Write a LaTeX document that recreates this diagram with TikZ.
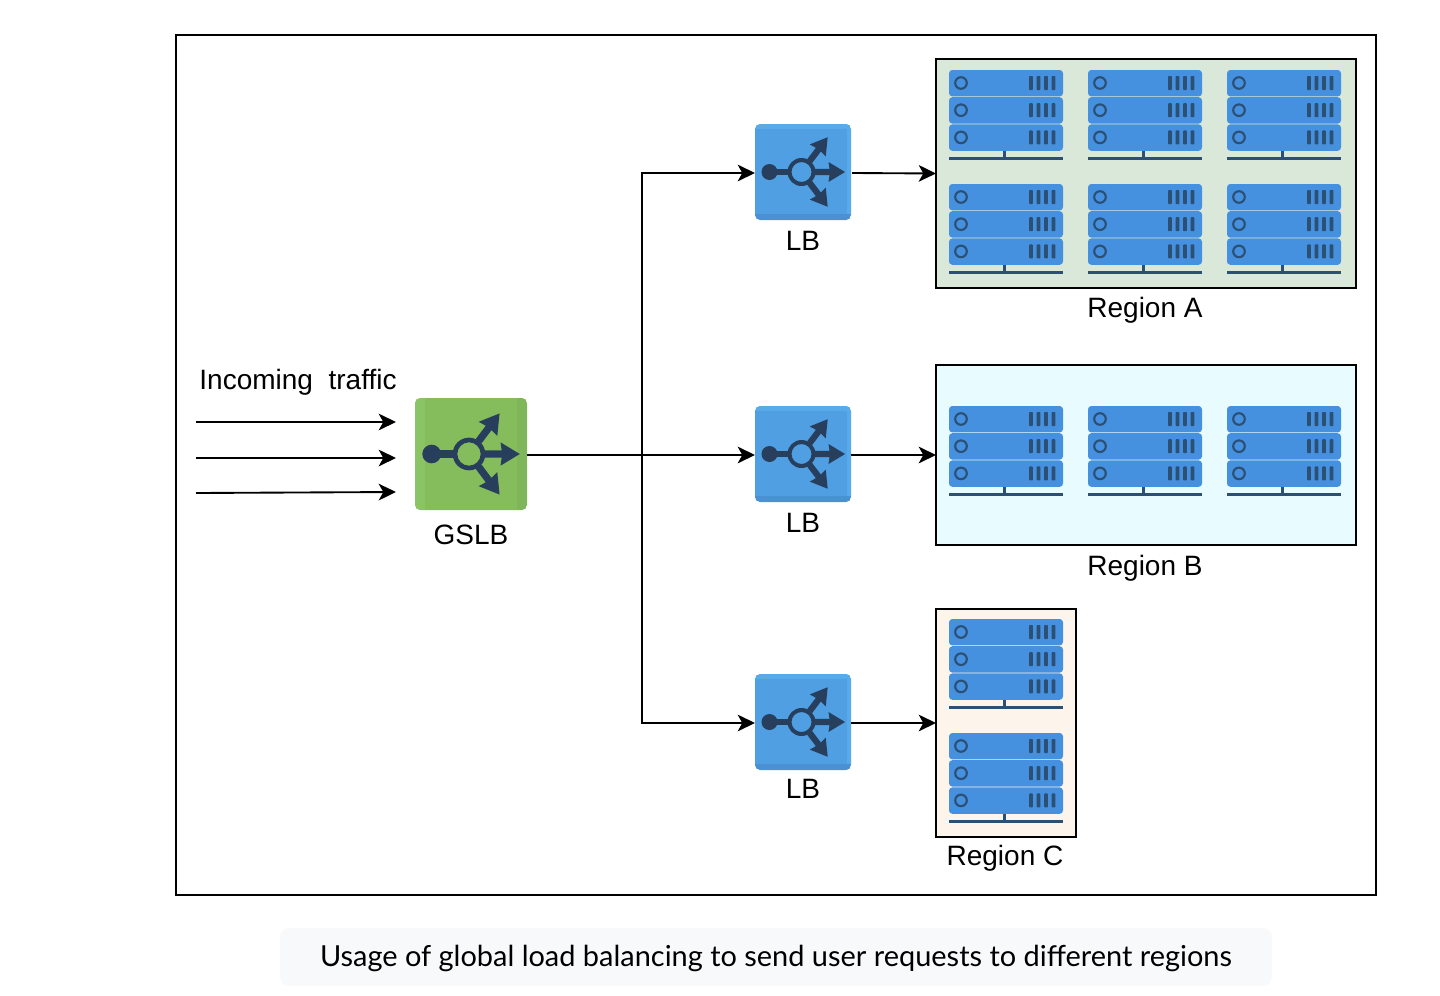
\documentclass[tikz,border=0pt]{standalone}
\usepackage{fontspec}
\setmainfont{Liberation Sans}
\newfontfamily\capfont{Lato}
\usetikzlibrary{arrows.meta}
\definecolor{srvblue}{HTML}{4590DF}
\definecolor{srvdark}{HTML}{2C4F74}
\definecolor{glyph}{HTML}{273E5C}
\definecolor{lbmain}{HTML}{4F9FE2}
\definecolor{lblight}{HTML}{58ABE8}
\definecolor{lbdark}{HTML}{4A90D2}
\definecolor{gsmain}{HTML}{85BD5C}
\definecolor{gslight}{HTML}{8BC465}
\definecolor{gsdark}{HTML}{80B65A}
\definecolor{rega}{HTML}{D9E8D8}
\definecolor{regb}{HTML}{E8FBFF}
\definecolor{regc}{HTML}{FDF5EC}
\definecolor{capbg}{HTML}{F8F9FB}
\tikzset{
  x=0.75pt,y=-0.75pt,
  frame/.style={draw=black,line width=1.5pt,fill=none,inner sep=0pt,outer sep=0pt},
  regionbox/.style={draw=black,line width=1.2pt,inner sep=0pt,outer sep=0pt},
  label/.style={font=\fontsize{21pt}{25pt}\selectfont,text=black,inner sep=0pt},
  flow/.style={draw=black,line width=1.4pt,-{Stealth[length=13pt,width=12.5pt,inset=3.5pt]}},
  lbbox/.style={fill=lbmain,rounded corners=4pt,minimum width=72pt,minimum height=72pt,inner sep=0pt,outer sep=0pt},
  gsbox/.style={fill=gsmain,rounded corners=4pt,minimum width=84pt,minimum height=84pt,inner sep=0pt,outer sep=0pt},
  server/.pic={
    \foreach \r in {0,27.2,54.4}{
      \fill[srvblue,rounded corners=2.5pt] (0,\r) rectangle (114,\r+26.4);
      \draw[srvdark,line width=1.6pt] (12,\r+13) circle[radius=5.8];
      \foreach \b in {82,89.5,97,104.5}{
        \fill[srvdark,rounded corners=0.6pt] (\b-1.9,\r+6) rectangle (\b+1.9,\r+20);
      }
    }
    \fill[srvdark] (0,86.7) rectangle (114,89.7);
    \fill[srvdark] (53.8,81) rectangle (56.8,87);
  },
  lbglyph/.pic={
    \fill[glyph,even odd rule] (0,0) circle[radius=14] (0,0) circle[radius=10];
    \fill[glyph] (-32,0) circle[radius=8];
    \fill[glyph] (-32,-3.1) rectangle (-13.5,3.1);
    \foreach \a in {-53,0,53}{
      \fill[glyph,rotate=\a] (13.5,-3.1) -- (28,-3.1) -- (27,-10) -- (43.5,0) -- (27,10) -- (28,3.1) -- (13.5,3.1) -- cycle;
    }
  }
}
\begin{document}
\begin{tikzpicture}
\useasboundingbox (0,0) rectangle (1440,996);
\fill[white] (0,0) rectangle (1440,996);

% outer frame
\node[frame,minimum width=900pt,minimum height=645pt] (outer) at (776,465) {};

% regions
\node[regionbox,fill=rega,minimum width=315pt,minimum height=171.75pt] (regA) at (1146,173.5) {};
\node[regionbox,fill=regb,minimum width=315pt,minimum height=135pt] (regB) at (1146,455) {};
\node[regionbox,fill=regc,minimum width=105pt,minimum height=171pt] (regC) at (1006,723) {};

% servers
\foreach \px in {949,1088,1227}{
  \foreach \py in {70,184,406}{
    \pic at (\px,\py) {server};
  }
}
\foreach \py in {619,733}{
  \pic at (949,\py) {server};
}

% GSLB
\node[gsbox] (gslb) at (471,454) {};
\begin{scope}
  \clip[rounded corners=4pt] (415,398) rectangle (527,510);
  \fill[gslight] (415,398) rectangle (425,510);
  \fill[gsdark] (517,398) rectangle (527,510);
\end{scope}
\pic[scale=1.167] at (469,454) {lbglyph};

% load balancers
\foreach \nm/\cy in {lbA/172,lbB/454,lbC/722}{
  \node[lbbox] (\nm) at (803,\cy) {};
  \begin{scope}
    \clip[rounded corners=4pt] (755,\cy-48) rectangle (851,\cy+48);
    \fill[lblight] (755,\cy-48) rectangle (851,\cy-43);
    \fill[lblight] (847,\cy-48) rectangle (851,\cy+48);
    \fill[lbdark] (755,\cy+42) rectangle (851,\cy+48);
  \end{scope}
  \pic at (801.5,\cy) {lbglyph};
}

% labels
\node[label] (tIn) at (298,382) {Incoming\ \ traffic};
\node[label] (tG) at (471,535) {GSLB};
\node[label] (tLa) at (803,241) {LB};
\node[label] (tLb) at (803,523) {LB};
\node[label] (tLc) at (803,789) {LB};
\node[label] (tRa) at (1145,310) {Region A};
\node[label] (tRb) at (1145,568) {Region B};
\node[label] (tRc) at (1005,858) {Region C};

% incoming traffic
\coordinate (i1s) at (196,422); \coordinate (i1e) at (396,422);
\coordinate (i2s) at (196,458); \coordinate (i2e) at (396,458);
\coordinate (i3s) at (196,493); \coordinate (i3e) at (396,492);
\draw[flow] (i1s) -- (i1e);
\draw[flow] (i2s) -- (i2e);
\draw[flow] (i3s) -- (i3e);

% connectors
\coordinate (hub) at (642,455);
\draw[flow] (gslb.east |- hub) -- (lbB.west |- hub);
\draw[flow] (hub) |- (lbA.west |- 0,173);
\draw[flow] (hub) |- (lbC.west |- 0,723);
\draw[flow] ([xshift=0.75pt,yshift=-0.75pt]lbA.east) -- (regA.west);
\draw[flow] (lbB.east |- hub) -- (regB.west);
\draw[flow] (lbC.east |- 0,723) -- (regC.west);

% caption
\node[fill=capbg,rounded corners=7pt,minimum width=744pt,minimum height=43.5pt,inner sep=0pt] (capbox) at (776,957) {};
\node[font=\capfont\fontsize{21.7pt}{26pt}\selectfont,text=black,inner sep=0pt] (cap) at (776,958) {Usage of global load balancing to send user requests to different regions};
\end{tikzpicture}
\end{document}
